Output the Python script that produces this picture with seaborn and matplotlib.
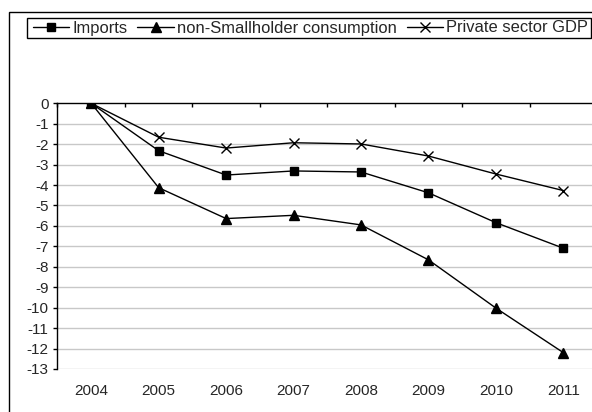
import pandas as pd
import matplotlib
matplotlib.use("Agg")
import matplotlib.pyplot as plt
from matplotlib.patches import Rectangle
import seaborn as sns

years = ['2004', '2005', '2006', '2007', '2008', '2009', '2010', '2011']
imports = [0, -2.32, -3.51, -3.31, -3.36, -4.38, -5.84, -7.09]
non_smallholder = [0, -4.13, -5.64, -5.48, -5.95, -7.66, -10.02, -12.2]
private_gdp = [0, -1.66, -2.19, -1.93, -1.99, -2.58, -3.46, -4.27]
series_names = ['Imports', 'non-Smallholder consumption', 'Private sector GDP']

sns.set_style("white")
plt.rcParams['font.family'] = ['Liberation Sans', 'DejaVu Sans']
plt.rcParams['axes.unicode_minus'] = False

df = pd.DataFrame({
    'pos': list(range(len(years))) * 3,
    'valor': imports + non_smallholder + private_gdp,
    'serie': [s for s in series_names for _ in years],
})

W, H = 592, 412
fig = plt.figure(figsize=(W / 100, H / 100), dpi=100)
ax = fig.add_axes([57.5 / W, 1 - 369 / H, 8 * 67.45 / W, (369 - 103.3) / H])
ax.patch.set_alpha(0)

# horizontal grid, zero line is the axis itself
for v in range(-13, 0):
    ax.axhline(v, color='#c8c8c8', lw=1.0, zorder=0)

markers = {'Imports': 's', 'non-Smallholder consumption': '^', 'Private sector GDP': 'x'}
sizes = {'Imports': 5.8, 'non-Smallholder consumption': 6.8, 'Private sector GDP': 6.8}
for nome in series_names:
    sub = df[df['serie'] == nome]
    sns.lineplot(data=sub, x='pos', y='valor', ax=ax, color='black', lw=1.0,
                 marker=markers[nome], markersize=sizes[nome], markeredgecolor='black',
                 markeredgewidth=1.0, label=nome, legend=False, zorder=3)

ax.set_xlim(-0.5, 7.5)
ax.set_ylim(-13, 0)
ax.set_xlabel('')
ax.set_ylabel('')

for s in ['right', 'bottom']:
    ax.spines[s].set_visible(False)
for s in ['left', 'top']:
    ax.spines[s].set_color('black')
    ax.spines[s].set_linewidth(1.0)

ax.set_xticks(range(len(years)))
ax.set_xticklabels(years, fontsize=11)
ax.set_xticks([i - 0.5 for i in range(len(years) + 1)], minor=True)
ax.tick_params(axis='x', which='major', length=0, pad=10.5, bottom=True, top=False)
ax.tick_params(axis='x', which='minor', length=3, direction='in', top=True, bottom=False,
               color='black', width=1.0)
ax.set_yticks(range(-13, 1))
ax.tick_params(axis='y', length=3, direction='out', left=True, color='black',
               width=1.0, pad=3.5, labelsize=11)

# outer chart-area frame
fig.patches.append(Rectangle((9 / W, -0.2), 1.2, 1 - 12 / H + 0.2, transform=fig.transFigure,
                             fill=False, edgecolor='black', lw=1.0, zorder=0))
# legend box
fig.patches.append(Rectangle((27 / W, 1 - 38.3 / H), (591 - 27) / W, 20.6 / H,
                             transform=fig.transFigure, fill=False, edgecolor='black',
                             lw=1.0, zorder=0))

handles, labels = ax.get_legend_handles_labels()
leg = fig.legend(handles, labels, loc='center left', bbox_to_anchor=(33 / W, 1 - 28 / H),
                 ncol=3, frameon=False, fontsize=11.9,
                 handlelength=2.2, handletextpad=0.18, columnspacing=0.6,
                 borderpad=0, borderaxespad=0)

fig.savefig('out.png', dpi=100)
